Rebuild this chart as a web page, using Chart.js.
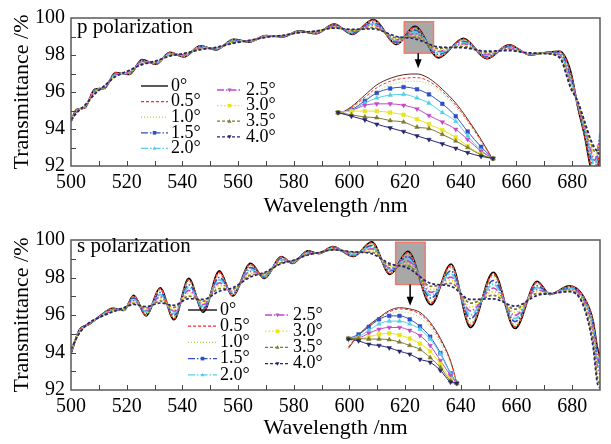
<!DOCTYPE html>
<html><head><meta charset="utf-8">
<script src="https://cdn.jsdelivr.net/npm/chart.js@4/dist/chart.umd.min.js"></script>
<style>
html,body{margin:0;padding:0;background:#fff;}
canvas{display:block;}
</style></head><body>
<canvas id="cp" width="611" height="222"></canvas>
<canvas id="cs" width="611" height="222"></canvas>
<script>
// ---------- data ----------
const angleLabels = ['0°','0.5°','1.0°','1.5°','2.0°','2.5°','3.0°','3.5°','4.0°'];

// p polarization, main curves
const pWl = [500,502,505,508.5,512,516,521,525.5,530.5,535.5,540.5,546.5,552,558.5,564,570,576,582,588,594.5,601,608.5,617,623.5,632,641,649.3,657.3,665,670,675.5,679.5,682,684.5,686.5,688,690];
const pT00 = [94.40,95.05,95.15,96.15,96.20,97.05,96.95,97.75,97.50,98.15,97.90,98.50,98.28,98.85,98.70,99.05,98.98,99.30,99.15,99.67,99.12,99.92,98.57,99.55,97.85,98.90,97.80,98.55,98.00,98.12,98.20,97.10,95.20,93.60,92.00,91.20,92.50];
const pT05 = [94.41,95.04,95.16,96.13,96.21,97.03,96.97,97.73,97.51,98.13,97.91,98.48,98.29,98.83,98.71,99.04,98.99,99.29,99.16,99.65,99.14,99.88,98.60,99.50,97.90,98.86,97.83,98.53,98.01,98.12,98.18,97.00,95.25,93.70,92.20,91.40,92.80];
const pT10 = [94.42,95.02,95.17,96.11,96.22,97.01,96.99,97.71,97.53,98.12,97.93,98.47,98.30,98.82,98.72,99.04,98.99,99.29,99.18,99.63,99.17,99.83,98.64,99.44,97.95,98.81,97.87,98.50,98.02,98.11,98.15,96.85,95.30,93.80,92.40,91.60,93.20];
const pT15 = [94.43,94.99,95.19,96.07,96.24,96.98,97.02,97.67,97.56,98.09,97.96,98.44,98.32,98.79,98.73,99.02,99.01,99.27,99.20,99.60,99.20,99.76,98.70,99.34,98.03,98.74,97.93,98.45,98.03,98.11,98.10,96.75,95.33,93.90,92.60,91.80,93.60];
const pT20 = [94.44,94.97,95.21,96.03,96.26,96.95,97.05,97.63,97.58,98.06,97.98,98.41,98.34,98.76,98.74,99.01,99.02,99.26,99.22,99.57,99.24,99.69,98.76,99.25,98.11,98.67,97.98,98.41,98.05,98.10,98.05,96.60,95.36,94.00,92.80,92.00,93.80];
const pT25 = [94.45,94.94,95.23,95.99,96.28,96.92,97.08,97.59,97.61,98.03,98.01,98.38,98.35,98.73,98.75,99.00,99.03,99.25,99.24,99.54,99.28,99.62,98.82,99.15,98.19,98.60,98.04,98.36,98.06,98.10,98.00,96.50,95.40,94.10,93.00,92.30,93.50];
const pT30 = [94.47,94.92,95.25,95.96,96.30,96.89,97.11,97.56,97.63,98.00,98.03,98.35,98.37,98.70,98.77,98.99,99.04,99.24,99.26,99.51,99.32,99.55,98.88,99.06,98.27,98.53,98.09,98.32,98.08,98.09,97.95,96.40,95.43,94.20,93.20,92.60,93.20];
const pT35 = [94.48,94.89,95.27,95.92,96.32,96.86,97.15,97.52,97.66,97.97,98.06,98.32,98.39,98.67,98.78,98.97,99.05,99.22,99.28,99.48,99.35,99.48,98.94,98.97,98.36,98.46,98.15,98.28,98.09,98.09,97.90,96.30,95.46,94.30,93.40,92.80,92.90];
const pT40 = [94.49,94.87,95.29,95.88,96.34,96.83,97.18,97.48,97.68,97.94,98.08,98.29,98.41,98.64,98.79,98.96,99.06,99.21,99.30,99.45,99.39,99.41,99.00,98.88,98.44,98.39,98.21,98.24,98.11,98.08,97.85,96.20,95.50,94.40,93.50,93.00,92.60];

// p polarization, magnified inset of the boxed region
const pInWl = [619.6,620.5,621.4,622.2,623.1,624.0,624.9,625.7,626.6,627.5,628.3,629.2,630.0];
const pI00 = [98.99,99.10,99.26,99.40,99.49,99.54,99.55,99.49,99.34,99.15,98.93,98.65,98.37];
const pI05 = [98.99,99.09,99.23,99.36,99.45,99.49,99.50,99.45,99.31,99.12,98.91,98.63,98.37];
const pI10 = [98.99,99.08,99.20,99.31,99.40,99.44,99.45,99.41,99.28,99.09,98.89,98.62,98.37];
const pI15 = [99.02,99.06,99.18,99.29,99.35,99.37,99.34,99.27,99.14,98.97,98.76,98.55,98.39];
const pI20 = [99.02,99.05,99.15,99.22,99.26,99.27,99.22,99.15,99.02,98.90,98.70,98.50,98.39];
const pI25 = [99.02,99.05,99.12,99.14,99.14,99.12,99.07,98.98,98.89,98.79,98.65,98.49,98.39];
const pI30 = [99.02,99.04,99.04,99.04,99.02,98.99,98.93,98.86,98.78,98.68,98.56,98.45,98.39];
const pI35 = [99.02,98.99,98.96,98.95,98.91,98.89,98.82,98.80,98.72,98.63,98.54,98.44,98.39];
const pI40 = [99.02,98.97,98.92,98.86,98.81,98.76,98.70,98.65,98.59,98.53,98.47,98.42,98.39];

// s polarization, main curves
const sWl = [500,503,506.5,510,515,519,522.5,527,532,537,542.3,547.5,553.3,558,564.5,569.5,575.5,579.5,585,589,594,601.4,608,614.6,621,629.3,636.5,643.5,651.7,659.5,667.4,672,679,684,687.5,689,690];
const sT00 = [93.95,95.20,95.50,95.90,96.35,96.25,97.05,95.95,97.45,95.75,97.95,96.15,98.35,97.02,98.75,97.95,99.12,98.75,99.42,99.28,99.65,99.12,99.90,98.17,99.40,96.55,98.72,95.33,98.28,95.28,97.80,97.10,97.55,97.00,95.70,94.30,93.80];
const sT05 = [93.97,95.19,95.51,95.90,96.34,96.26,97.01,95.99,97.39,95.81,97.87,96.20,98.27,97.05,98.69,97.97,99.09,98.76,99.40,99.28,99.64,99.14,99.85,98.21,99.33,96.64,98.63,95.45,98.17,95.37,97.74,97.10,97.53,96.98,95.65,94.20,93.70];
const sT10 = [93.99,95.17,95.52,95.89,96.32,96.27,96.97,96.03,97.32,95.88,97.77,96.26,98.17,97.09,98.63,98.00,99.06,98.78,99.38,99.29,99.62,99.16,99.80,98.26,99.25,96.74,98.52,95.58,98.04,95.48,97.67,97.11,97.50,96.95,95.55,94.00,93.50];
const sT15 = [94.03,95.14,95.53,95.89,96.29,96.29,96.90,96.10,97.20,95.99,97.61,96.36,98.01,97.15,98.53,98.05,99.00,98.80,99.35,99.29,99.59,99.20,99.70,98.35,99.12,96.90,98.35,95.80,97.84,95.65,97.56,97.11,97.45,96.90,95.45,93.80,93.30];
const sT20 = [94.06,95.12,95.54,95.88,96.27,96.31,96.83,96.17,97.09,96.09,97.47,96.45,97.87,97.21,98.43,98.09,98.95,98.82,99.32,99.30,99.57,99.23,99.62,98.42,99.00,97.05,98.19,96.00,97.65,95.81,97.46,97.12,97.41,96.85,95.30,93.60,93.10];
const sT25 = [94.09,95.09,95.55,95.87,96.24,96.33,96.76,96.24,96.97,96.20,97.31,96.55,97.71,97.27,98.33,98.14,98.90,98.84,99.29,99.31,99.54,99.27,99.53,98.50,98.87,97.21,98.02,96.22,97.44,95.98,97.35,97.13,97.36,96.80,95.10,93.30,92.80];
const sT30 = [94.13,95.07,95.57,95.87,96.22,96.35,96.69,96.31,96.87,96.30,97.17,96.64,97.57,97.33,98.23,98.18,98.85,98.86,99.26,99.31,99.52,99.30,99.45,98.58,98.75,97.36,97.86,96.42,97.25,96.14,97.25,97.13,97.32,96.70,94.90,93.00,92.50];
const sT35 = [94.16,95.04,95.58,95.86,96.19,96.37,96.62,96.38,96.75,96.41,97.01,96.74,97.41,97.39,98.13,98.22,98.79,98.88,99.23,99.32,99.49,99.34,99.35,98.66,98.62,97.53,97.69,96.63,97.05,96.31,97.14,97.14,97.28,96.60,94.60,92.70,92.30];
const sT40 = [94.19,95.02,95.59,95.86,96.17,96.39,96.56,96.45,96.64,96.52,96.87,96.83,97.27,97.45,98.03,98.27,98.74,98.90,99.20,99.33,99.47,99.37,99.27,98.74,98.50,97.68,97.53,96.83,96.86,96.47,97.04,97.15,97.24,96.50,94.30,92.40,92.10];

// s polarization, magnified inset of the boxed region
const sInWl = [616.6,617.6,618.6,619.6,620.6,621.6,622.6,623.6,624.6,625.6,626.6,627.2];
const sI00 = [98.70,98.93,99.10,99.23,99.35,99.40,99.38,99.32,99.15,98.87,98.48,98.10];
const sI05 = [98.73,98.93,99.08,99.22,99.33,99.38,99.36,99.29,99.12,98.84,98.47,98.10];
const sI10 = [98.79,98.92,99.06,99.19,99.29,99.33,99.31,99.23,99.07,98.79,98.43,98.10];
const sI15 = [98.87,98.94,99.07,99.20,99.26,99.26,99.20,99.08,98.90,98.62,98.27,98.10];
const sI20 = [98.87,98.90,99.01,99.12,99.17,99.17,99.12,99.03,98.86,98.60,98.26,98.10];
const sI25 = [98.87,98.88,98.96,99.03,99.06,99.06,99.01,98.92,98.75,98.49,98.23,98.10];
const sI30 = [98.87,98.87,98.90,98.94,98.96,98.93,98.87,98.78,98.65,98.43,98.17,98.10];
const sI35 = [98.87,98.87,98.86,98.86,98.85,98.81,98.75,98.68,98.54,98.37,98.14,98.10];
const sI40 = [98.86,98.83,98.77,98.75,98.71,98.65,98.60,98.51,98.46,98.32,98.12,98.10];

// boxed regions [x0, x1, yLow, yHigh] and arrows [x, yFrom, yTo]
const pBox = [619.7, 630.2, 98.1, 99.8];
const pArrow = [624.7, 98.1, 97.28];
const sBox = [616.6, 627.2, 97.63, 99.88];
const sArrow = [621.8, 97.63, 96.49];

// ---------- styles ----------
const FONT = '"Liberation Serif", "DejaVu Serif", serif';
const styles = [
  {color:'#000000', dash:[], inset:'#5a2a22'},
  {color:'#ff2b2b', dash:[3,2]},
  {color:'#a6d24a', dash:[1,2]},
  {color:'#2f4fc8', dash:[7,2,1.5,2], point:'rect'},
  {color:'#52d0e6', dash:[7,2,1.5,2], point:'triangle'},
  {color:'#c24ac8', dash:[7,2,1.5,2], point:'triangle', rot:180},
  {color:'#e8e41e', dash:[1.5,2], point:'rect'},
  {color:'#7e7a2e', dash:[3,2], point:'triangle'},
  {color:'#26266e', dash:[3,2], point:'triangle', rot:180}
];

function drawMarker(ctx, st, x, y, r) {
  ctx.save();
  ctx.fillStyle = st.color;
  ctx.translate(x, y);
  if (st.rot) ctx.rotate(Math.PI);
  ctx.beginPath();
  if (st.point === 'rect') { ctx.rect(-r, -r, 2*r, 2*r); }
  else { ctx.moveTo(0, -r*1.2); ctx.lineTo(r*1.1, r*0.8); ctx.lineTo(-r*1.1, r*0.8); ctx.closePath(); }
  ctx.fill();
  ctx.restore();
}

const deco = {
  id: 'deco',
  beforeDatasetsDraw(chart, args, o) {
    const {ctx, scales:{x, y}} = chart;
    const x0 = x.getPixelForValue(o.box[0]), x1 = x.getPixelForValue(o.box[1]);
    const y0 = y.getPixelForValue(o.box[3]), y1 = y.getPixelForValue(o.box[2]);
    ctx.save();
    ctx.fillStyle = '#a8a8a8';
    ctx.fillRect(x0, y0, x1 - x0, y1 - y0);
    ctx.strokeStyle = '#f07a6e';
    ctx.lineWidth = 1.5;
    ctx.strokeRect(x0, y0, x1 - x0, y1 - y0);
    ctx.restore();
  },
  afterDatasetsDraw(chart, args, o) {
    const {ctx, chartArea:a, scales:{x, y}} = chart;
    ctx.save();
    const ax = x.getPixelForValue(o.arrow[0]);
    const ay0 = y.getPixelForValue(o.arrow[1]), ay1 = y.getPixelForValue(o.arrow[2]);
    ctx.strokeStyle = '#000'; ctx.fillStyle = '#000'; ctx.lineWidth = 1.5;
    ctx.beginPath(); ctx.moveTo(ax, ay0); ctx.lineTo(ax, ay1 - 6); ctx.stroke();
    ctx.beginPath(); ctx.moveTo(ax, ay1); ctx.lineTo(ax - 3.5, ay1 - 9); ctx.lineTo(ax + 3.5, ay1 - 9); ctx.closePath(); ctx.fill();
    ctx.strokeStyle = '#5a5a5a'; ctx.lineWidth = 1.5;
    ctx.strokeRect(a.left, a.top, a.width, a.height);
    ctx.lineWidth = 1; ctx.strokeStyle = '#444';
    x.ticks.forEach(t => {
      const px = Math.round(x.getPixelForValue(t.value)) + 0.5;
      if (px <= a.left + 2 || px >= a.right - 2) return;
      ctx.beginPath(); ctx.moveTo(px, a.bottom); ctx.lineTo(px, a.bottom - 5); ctx.stroke();
    });
    y.ticks.forEach(t => {
      const py = Math.round(y.getPixelForValue(t.value)) + 0.5;
      if (py <= a.top + 2 || py >= a.bottom - 2) return;
      ctx.beginPath(); ctx.moveTo(a.left, py); ctx.lineTo(a.left + 5, py); ctx.stroke();
    });
    ctx.fillStyle = '#000';
    ctx.font = '21px ' + FONT;
    ctx.textBaseline = 'middle'; ctx.textAlign = 'left';
    ctx.fillText(o.title, a.left + 6, a.top + o.titleDy);
    ctx.font = '18px ' + FONT;
    angleLabels.forEach((lab, k) => {
      const col = k < 5 ? 0 : 1, row = k < 5 ? k : k - 5;
      const c = o.leg.cols[col];
      const ly = c.y0 + row * o.leg.step;
      const st = styles[k];
      ctx.save();
      ctx.strokeStyle = st.color; ctx.lineWidth = 1.3; ctx.setLineDash(st.dash);
      ctx.beginPath(); ctx.moveTo(c.x0, ly); ctx.lineTo(c.x1, ly); ctx.stroke();
      ctx.restore();
      if (st.point) drawMarker(ctx, st, (c.x0 + c.x1) / 2, ly, 1.8);
      ctx.fillStyle = '#000';
      ctx.fillText(lab, c.tx, ly);
    });
    ctx.restore();
  }
};

function makeChart(id, wl, series, inWl, inSeries, cfg) {
  const datasets = [];
  series.forEach((arr, k) => {
    const st = styles[k];
    datasets.push({
      label: angleLabels[k],
      data: wl.map((w, i) => ({x: w, y: arr[i]})),
      borderColor: st.color, borderDash: st.dash, borderWidth: 1.7,
      pointRadius: 0, cubicInterpolationMode: 'monotone', order: 20 - k
    });
  });
  inSeries.forEach((arr, k) => {
    const st = styles[k];
    datasets.push({
      label: angleLabels[k] + ' inset',
      data: inWl.map((w, i) => ({x: w, y: arr[i]})),
      xAxisID: 'x2', yAxisID: 'y2',
      borderColor: st.inset || st.color, borderDash: k < 3 ? st.dash : [], borderWidth: 1,
      pointRadius: st.point ? 2.6 : 0, pointStyle: st.point || 'circle', pointRotation: st.rot || 0,
      pointBackgroundColor: st.color, pointBorderColor: st.color, pointBorderWidth: 0.5,
      cubicInterpolationMode: 'monotone', order: 8 - k
    });
  });
  const tickFont = {family: FONT, size: 20};
  return new Chart(document.getElementById(id), {
    type: 'line',
    data: {datasets},
    plugins: [deco],
    options: {
      responsive: false, animation: false,
      layout: {padding: {left: 0, right: 11, top: cfg.padTop, bottom: 0}},
      plugins: {legend: {display: false}, tooltip: {enabled: false}, deco: cfg},
      scales: {
        x: {type: 'linear', min: 500, max: 690,
            ticks: {stepSize: 10, autoSkip: false, maxRotation: 0, minRotation: 0, padding: 5, color: '#000', font: tickFont,
                    callback: v => (v % 20 === 0 ? String(v) : '')},
            grid: {display: false, drawTicks: false}, border: {display: false},
            title: {display: true, text: 'Wavelength /nm', color: '#000', font: {family: FONT, size: 22}, padding: {top: 0, bottom: 3}},
            afterFit: s => { s.height = cfg.xh; }},
        y: {min: 92, max: 100,
            ticks: {stepSize: 1, autoSkip: false, padding: 6, color: '#000', font: tickFont,
                    callback: v => (v % 2 === 0 ? String(v) : '')},
            grid: {display: false, drawTicks: false}, border: {display: false},
            title: {display: true, text: 'Transmittance /%', color: '#000', font: {family: FONT, size: 22}, padding: {top: 9, bottom: 0}},
            afterFit: s => { s.width = 71; }},
        x2: {type: 'linear', display: false, min: cfg.x2[0], max: cfg.x2[1]},
        y2: {type: 'linear', display: false, min: cfg.y2[0], max: cfg.y2[1]}
      }
    }
  });
}

makeChart('cp', pWl, [pT00,pT05,pT10,pT15,pT20,pT25,pT30,pT35,pT40], pInWl, [pI00,pI05,pI10,pI15,pI20,pI25,pI30,pI35,pI40], {
  title: 'p polarization', titleDy: 9.7, box: pBox, arrow: pArrow,
  x2: [601.68, 637.18], y2: [98.287, 100.318], padTop: 10, xh: 56,
  leg: {cols: [{x0: 141, x1: 168, tx: 171, y0: 86}, {x0: 217, x1: 242, tx: 246, y0: 90}], step: 15.6}
});
makeChart('cs', sWl, [sT00,sT05,sT10,sT15,sT20,sT25,sT30,sT35,sT40], sInWl, [sI00,sI05,sI10,sI15,sI20,sI25,sI30,sI35,sI40], {
  title: 's polarization', titleDy: 6.3, box: sBox, arrow: sArrow,
  x2: [589.49, 641.2], y2: [97.983, 100.567], padTop: 13, xh: 54,
  leg: {cols: [{x0: 188, x1: 217, tx: 220, y0: 88}, {x0: 265, x1: 290, tx: 293, y0: 93}], step: 16.2}
});
</script>
</body></html>
